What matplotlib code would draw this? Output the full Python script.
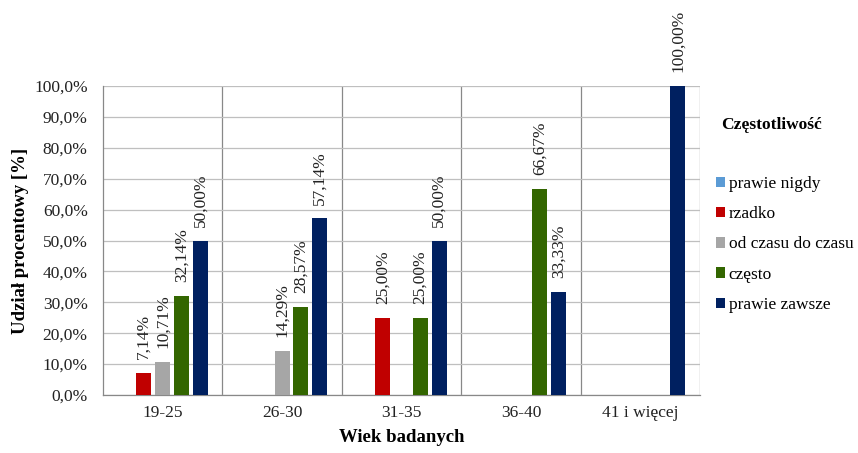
import matplotlib.pyplot as plt
import numpy as np
from matplotlib.ticker import FuncFormatter
from matplotlib.patches import Patch

plt.rcParams['font.family'] = ['Liberation Serif', 'DejaVu Serif']

# grupy wiekowe i udział odpowiedzi [%]
grupy = ['19-25', '26-30', '31-35', '36-40', '41 i więcej']
serie = ['prawie nigdy', 'rzadko', 'od czasu do czasu', 'często', 'prawie zawsze']
prawie_nigdy = [0.0, 0.0, 0.0, 0.0, 0.0]
rzadko = [7.14, 0.0, 25.00, 0.0, 0.0]
od_czasu = [10.71, 14.29, 0.0, 0.0, 0.0]
czesto = [32.14, 28.57, 25.00, 66.67, 0.0]
prawie_zawsze = [50.00, 57.14, 50.00, 33.33, 100.00]
kolory = ['#5B9BD5', '#C00000', '#A6A6A6', '#336600', '#002060']

dane = [prawie_nigdy, rzadko, od_czasu, czesto, prawie_zawsze]

fig = plt.figure(figsize=(8.58, 4.53), dpi=100)
ax = fig.add_axes([0.120, 0.128, 0.696, 0.682])

x = np.arange(len(grupy))
krok = 0.157
szer = 0.126
for i, (wart, kol) in enumerate(zip(dane, kolory)):
    poz = x + (i - 2) * krok
    ax.bar(poz, wart, width=szer, color=kol, zorder=3)
    for px, v in zip(poz, wart):
        if v > 0:
            ax.annotate(f'{v:.2f}%'.replace('.', ','), (px, v),
                        xytext=(0, 10), textcoords='offset points',
                        rotation=90, ha='center', va='bottom',
                        fontsize=12.5, color='#222222', annotation_clip=False)

ax.set_xlim(-0.5, len(grupy) - 0.5)
ax.set_ylim(0, 100)
ax.set_yticks(np.arange(0, 101, 10))
ax.yaxis.set_major_formatter(FuncFormatter(lambda v, p: f'{v:.1f}%'.replace('.', ',')))
ax.set_xticks(x)
ax.set_xticklabels(grupy)
ax.tick_params(length=0, labelsize=12.5, colors='#222222')
ax.tick_params(axis='y', pad=11)
ax.tick_params(axis='x', pad=7)

ax.grid(axis='y', color='#BFBFBF', linewidth=0.9, zorder=0)
for b in np.arange(0.5, len(grupy) - 0.5):
    ax.axvline(b, color='#888888', linewidth=0.9, zorder=1)
ax.axvline(len(grupy) - 0.5, color='#888888', linewidth=0.9, zorder=1)

for s in ['top', 'right']:
    ax.spines[s].set_visible(False)
for s in ['left', 'bottom']:
    ax.spines[s].set_color('#888888')
    ax.spines[s].set_linewidth(0.9)

ax.set_ylabel('Udział procentowy [%]', fontsize=13.5, fontweight='bold', labelpad=4)
ax.set_xlabel('Wiek badanych', fontsize=13.5, fontweight='bold', labelpad=6)

fig.text(0.840, 1 - 125 / 453, 'Częstotliwość', fontsize=12.5, fontweight='bold',
         va='center', ha='left')
uchwyty = [Patch(facecolor=k, edgecolor='none') for k in kolory]
fig.legend(uchwyty, serie, loc='upper left', bbox_to_anchor=(0.826, 1 - 169 / 453),
           frameon=False, fontsize=12.5, handlelength=0.55, handleheight=0.55,
           handletextpad=0.2, labelspacing=0.82, borderaxespad=0)

fig.savefig('out.png', dpi=100)
